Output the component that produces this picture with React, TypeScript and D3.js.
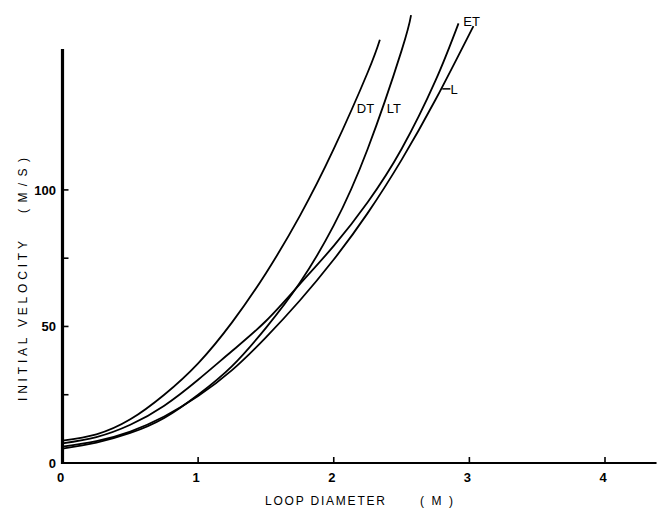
import React from "react";
import * as d3 from "d3";

// values (loop diameter in M, initial velocity in M/S)
const dtDiam = [0, 0.25, 0.5, 0.75, 1, 1.25, 1.5, 1.75, 2, 2.25, 2.34];
const dtVel = [8.2, 10.5, 16, 25, 36.5, 51.5, 69.5, 90.5, 115, 143, 155];

const ltDiam = [0, 0.25, 0.5, 0.75, 1, 1.25, 1.5, 1.75, 2, 2.25, 2.5, 2.57];
const ltVel = [5.3, 7.5, 11, 16.5, 25, 35.5, 49.5, 66, 87, 115, 151, 164];

const etDiam = [0, 0.25, 0.5, 0.75, 1, 1.25, 1.5, 1.75, 2, 2.25, 2.5, 2.75, 2.92];
const etVel = [7.2, 9.5, 14, 21, 30.5, 41, 52, 65.5, 79.5, 95.5, 115, 140, 161];

const lDiam = [0, 0.25, 0.5, 0.75, 1, 1.25, 1.5, 1.75, 2, 2.25, 2.5, 2.75, 3.03];
const lVel = [6, 8, 11.5, 17, 24.5, 34, 46, 59.5, 74.5, 91.5, 111, 133, 160];

const xTicks = [1, 2, 3, 4];
const xLabels = [0, 1, 2, 3, 4];
const yTicks = [25, 50, 75, 100];
const yLabels = [0, 50, 100];

// curve labels: [text, diameter, velocity]
const curveLabels: [string, number, number][] = [
  ["DT", 2.17, 128],
  ["LT", 2.39, 128],
  ["ET", 2.955, 160],
];

export default function App() {
  const x = d3.scaleLinear().domain([0, 4]).range([62.5, 605]);
  const y = d3.scaleLinear().domain([0, 151.6]).range([463, 49]);

  const line = d3
    .line<[number, number]>()
    .x((d) => x(d[0]))
    .y((d) => y(d[1]))
    .curve(d3.curveNatural);

  const series = [
    [dtDiam, dtVel],
    [ltDiam, ltVel],
    [etDiam, etVel],
    [lDiam, lVel],
  ].map(([xs, vs]) => xs.map((v, i) => [v, vs[i]] as [number, number]));

  const font = "'Liberation Sans', Arial, sans-serif";

  return (
    <svg
      width={661}
      height={510}
      style={{ position: "absolute", left: 0, top: 0, background: "#fff" }}
      fontFamily={font}
    >
      {series.map((s, i) => (
        <path key={i} d={line(s) || ""} fill="none" stroke="#000" strokeWidth={1.8} />
      ))}

      {/* axes */}
      <line x1={x(0)} x2={x(0)} y1={y(0) + 1} y2={y(151.6)} stroke="#000" strokeWidth={3.2} />
      <line x1={x(0) - 1} x2={x(4.38)} y1={y(0)} y2={y(0)} stroke="#000" strokeWidth={2} />
      {xTicks.map((t) => (
        <line key={t} x1={x(t)} x2={x(t)} y1={y(0)} y2={y(0) - 6} stroke="#000" strokeWidth={1.6} />
      ))}
      {yTicks.map((t) => (
        <line key={t} x1={x(0)} x2={x(0) + 6} y1={y(t)} y2={y(t)} stroke="#000" strokeWidth={1.6} />
      ))}
      {xLabels.map((t) => (
        <text key={t} x={x(t) - 2} y={482} textAnchor="middle" fontSize={13} fontWeight="bold">
          {t}
        </text>
      ))}
      {yLabels.map((t) => (
        <text key={t} x={56} y={y(t)} dy="0.36em" textAnchor="end" fontSize={13} fontWeight="bold">
          {t}
        </text>
      ))}

      {/* axis titles */}
      <text x={265} y={505} fontSize={12} textLength={120} lengthAdjust="spacing">
        LOOP DIAMETER
      </text>
      <text x={420} y={505} fontSize={12} textLength={33} lengthAdjust="spacing">
        (M)
      </text>
      <g transform="translate(27,0) rotate(-90)">
        <text x={-401} y={0} fontSize={12} textLength={160} lengthAdjust="spacing">
          INITIAL VELOCITY
        </text>
        <text x={-213} y={0} fontSize={12} textLength={55} lengthAdjust="spacing">
          (M/S)
        </text>
      </g>

      {/* curve labels */}
      {curveLabels.map(([t, d, v]) => (
        <text key={t} x={x(d)} y={y(v)} fontSize={13}>
          {t}
        </text>
      ))}
      <line x1={x(2.8)} x2={x(2.86)} y1={y(137)} y2={y(137)} stroke="#000" strokeWidth={1.5} />
      <text x={x(2.86)} y={y(137) + 5} fontSize={13}>
        L
      </text>
    </svg>
  );
}
